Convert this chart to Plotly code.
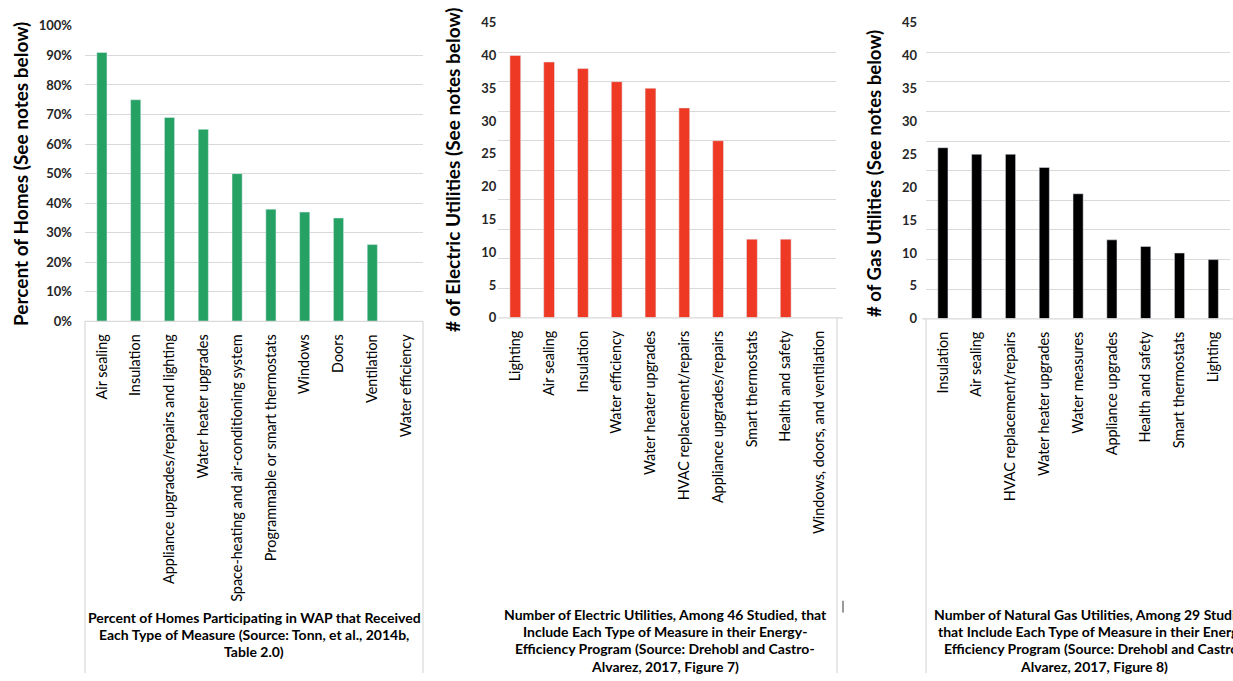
import plotly.graph_objects as go

# ---- data -------------------------------------------------------------
wap_measures = ["Air sealing", "Insulation", "Appliance upgrades/repairs and lighting",
                "Water heater upgrades", "Space-heating and air-conditioning system",
                "Programmable or smart thermostats", "Windows", "Doors", "Ventilation",
                "Water efficiency"]
wap_pct = [91, 75, 69, 65, 50, 38, 37, 35, 26, 0]

elec_measures = ["Lighting", "Air sealing", "Insulation", "Water efficiency",
                 "Water heater upgrades", "HVAC replacement/repairs",
                 "Appliance upgrades/repairs", "Smart thermostats", "Health and safety",
                 "Windows, doors, and ventilation"]
elec_counts = [40, 39, 38, 36, 35, 32, 27, 12, 12, 0]

gas_measures = ["Insulation", "Air sealing", "HVAC replacement/repairs",
                "Water heater upgrades", "Water measures", "Appliance upgrades",
                "Health and safety", "Smart thermostats", "Lighting"]
gas_counts = [26, 25, 25, 23, 19, 12, 11, 10, 9]

pct_ticks = list(range(0, 101, 10))
pct_labels = [f"{v}%" for v in pct_ticks]
count_ticks = list(range(0, 46, 5))
count_grid = [i * 4.5 for i in range(11)]

captions = [
    ["Percent of Homes Participating in WAP that Received",
     "Each Type of Measure (Source: Tonn, et al., 2014b,",
     "Table 2.0)"],
    ["Number of Electric Utilities, Among 46 Studied, that",
     "Include Each Type of Measure in their Energy-",
     "Efficiency Program (Source: Drehobl and Castro-",
     "Alvarez, 2017, Figure 7)"],
    ["Number of Natural Gas Utilities, Among 29 Studied,",
     "that Include Each Type of Measure in their Energy-",
     "Efficiency Program (Source: Drehobl and Castro-",
     "Alvarez, 2017, Figure 8)"],
]
y_titles = ["Percent of Homes (See notes below)",
            "# of Electric Utilities (See notes below)",
            "# of Gas Utilities (See notes below)"]

# ---- layout helpers ---------------------------------------------------
W, H = 1233, 681
FONT = "Lato"
GRID = "#d9d9d9"


def fx(px):
    return px / W


def fy(py):
    return 1 - py / H


tick_font = dict(family=FONT, size=14.4, color="#000000")
val_font = dict(family=FONT, size=13, color="#262626", weight="bold")

fig = go.Figure()
fig.add_trace(go.Bar(x=wap_measures, y=wap_pct, marker_color="#25A263",
                     width=0.3, xaxis="x", yaxis="y"))
fig.add_trace(go.Bar(x=elec_measures, y=elec_counts, marker_color="#EE3A24",
                     width=0.32, xaxis="x2", yaxis="y2"))
fig.add_trace(go.Bar(x=gas_measures, y=gas_counts, marker_color="#000000",
                     width=0.3, xaxis="x3", yaxis="y3"))
# empty carriers so the labelled count axes get drawn
fig.add_trace(go.Scatter(x=elec_measures[:1], y=[0], mode="none", hoverinfo="skip",
                         xaxis="x2", yaxis="y4"))
fig.add_trace(go.Scatter(x=gas_measures[:1], y=[0], mode="none", hoverinfo="skip",
                         xaxis="x3", yaxis="y5"))

cat_axis = dict(type="category", tickangle=-90, ticks="", showgrid=False,
                zeroline=False, showline=False, tickfont=tick_font,
                ticklabelstandoff=9)

fig.update_layout(
    width=W, height=H,
    margin=dict(l=0, r=0, t=0, b=0),
    paper_bgcolor="white", plot_bgcolor="white",
    showlegend=False,
    xaxis=dict(cat_axis, domain=[fx(85), fx(423)], anchor="y"),
    yaxis=dict(domain=[fy(321), fy(18.3)], range=[0, 100], tickvals=pct_ticks,
               ticktext=pct_labels, gridcolor=GRID, gridwidth=1, zeroline=False,
               showline=False, ticks="", tickfont=val_font, ticklabelstandoff=12,
               anchor="x"),
    xaxis2=dict(cat_axis, domain=[fx(498.4), fx(836.4)], anchor="y2"),
    yaxis2=dict(domain=[fy(317.3), fy(15)], range=[0, 45], tickvals=count_grid,
                showticklabels=False, gridcolor=GRID, gridwidth=1, zeroline=False,
                showline=False, ticks="", anchor="x2"),
    yaxis4=dict(overlaying="y2", anchor="x2", range=[0, 45], tickvals=count_ticks,
                showgrid=False, zeroline=False, showline=False, ticks="",
                tickfont=val_font, ticklabelstandoff=1),
    xaxis3=dict(cat_axis, domain=[fx(926), fx(1230.2)], anchor="y3"),
    yaxis3=dict(domain=[fy(318.3), fy(15)], range=[0, 45], tickvals=count_grid,
                showticklabels=False, gridcolor=GRID, gridwidth=1, zeroline=False,
                showline=False, ticks="", anchor="x3"),
    yaxis5=dict(overlaying="y3", anchor="x3", range=[0, 45], tickvals=count_ticks,
                showgrid=False, zeroline=False, showline=False, ticks="",
                tickfont=val_font, ticklabelstandoff=8),
)

# frame lines around the category-label areas
frame = [
    (85, 321, 423, 321), (85, 321, 85, 681), (423, 321, 423, 681),
    (498.4, 317.3, 843, 317.3), (837, 317.3, 837, 681),
    (922, 318.3, 1233, 318.3), (926, 318.3, 926, 681),
]
for x0, y0, x1, y1 in frame:
    fig.add_shape(type="line", xref="paper", yref="paper",
                  x0=fx(x0), y0=fy(y0), x1=fx(x1), y1=fy(y1),
                  line=dict(color=GRID, width=1.2))
fig.add_shape(type="line", xref="paper", yref="paper",
              x0=fx(843), y0=fy(607), x1=fx(843), y1=fy(619),
              line=dict(color="#777777", width=1.5))

# rotated value-axis titles
for text, cx, cy, size in zip(y_titles, [20, 452, 874], [170, 166, 169], [19, 19, 18.6]):
    fig.add_annotation(text=text, xref="paper", yref="paper", x=fx(cx), y=fy(cy),
                       textangle=-90, showarrow=False, xanchor="center", yanchor="middle",
                       font=dict(family=FONT, size=size, color="#000000", weight="bold"))

# captions under each chart
caption_x = [254, 665, 1094]
caption_rows = [[624, 641.5, 659], [621, 638.7, 656.3, 674], [621, 638.7, 656.3, 674]]
for lines, cx, rows in zip(captions, caption_x, caption_rows):
    for line, ry in zip(lines, rows):
        fig.add_annotation(text=line, xref="paper", yref="paper", x=fx(cx), y=fy(ry),
                           showarrow=False, xanchor="center", yanchor="middle",
                           font=dict(family=FONT, size=14, color="#000000", weight="bold"))

fig.write_html("out.html")
